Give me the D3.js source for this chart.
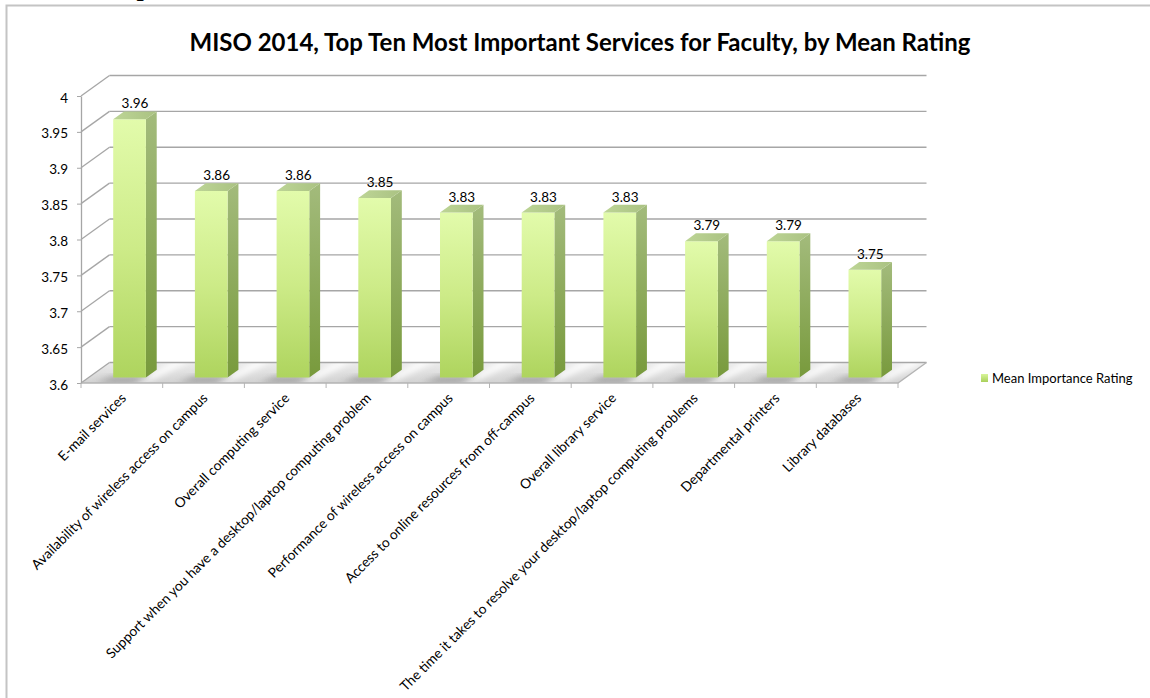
<!DOCTYPE html>
<html>
<head>
<meta charset="utf-8">
<script src="https://cdn.jsdelivr.net/npm/d3@7"></script>
<style>
  body { margin: 0; background: #fff; }
  svg { display: block; font-family: Lato, "Open Sans", sans-serif; }
</style>
</head>
<body>
<svg id="chart" width="1150" height="698"></svg>
<script>
// Survey data: mean importance rating per service
const categories = [
  "E-mail services",
  "Availability of wireless access on campus",
  "Overall computing service",
  "Support when you have a desktop/laptop computing problem",
  "Performance of wireless access on campus",
  "Access to online resources from off-campus",
  "Overall library service",
  "The time it takes to resolve your desktop/laptop computing problems",
  "Departmental printers",
  "Library databases"
];
const meanRatings = [3.96, 3.86, 3.86, 3.85, 3.83, 3.83, 3.83, 3.79, 3.79, 3.75];
const yTickValues = [3.6, 3.65, 3.7, 3.75, 3.8, 3.85, 3.9, 3.95, 4];
const seriesName = "Mean Importance Rating";
const chartTitle = "MISO 2014, Top Ten Most Important Services for Faculty, by Mean Rating";

const svg = d3.select("#chart");
const defs = svg.append("defs");

// Front plane scales; the back wall sits one "depth" behind the front plane
const x = d3.scaleBand().domain(categories).range([81, 898]);
const y = d3.scaleLinear().domain([3.6, 4]).range([383, 96]);
const depth = { dx: 28.5, dy: -20.5 };
const P = (px, py, t) => [px + t * depth.dx, py + t * depth.dy];
const baseVal = y.domain()[0];
const y0 = y(baseVal);
const [xL, xR] = x.range();

// Gradients
function linGrad(id, x1, y1, x2, y2, stops) {
  const g = defs.append("linearGradient").attr("id", id)
    .attr("x1", x1).attr("y1", y1).attr("x2", x2).attr("y2", y2);
  stops.forEach(([o, c]) => g.append("stop").attr("offset", o).attr("stop-color", c));
}
linGrad("barFront", 0, 0, 0, 1, [[0, "#e2fbab"], [0.5, "#cdeb88"], [1, "#aed45e"]]);
linGrad("barSide", 0, 0, 0, 1, [[0, "#a3bb7c"], [1, "#789a3c"]]);
linGrad("barTop", 0, 0, 1, 0, [[0, "#bdd596"], [1, "#aac282"]]);
linGrad("floorFill", 0, 0, 0, 1, [[0, "#ececec"], [1, "#d2d2d2"]]);
linGrad("legendFill", 0, 0, 0, 1, [[0, "#d8f59a"], [1, "#a9d05a"]]);
defs.append("filter").attr("id", "soft").attr("x", "-50%").attr("y", "-50%")
  .attr("width", "200%").attr("height", "200%")
  .append("feGaussianBlur").attr("stdDeviation", 3);
defs.append("clipPath").attr("id", "floorClip")
  .append("polygon")
  .attr("points", [P(xL, y0, 0), P(xR, y0, 0), P(xR, y0, 1), P(xL, y0, 1)].join(" "));

// Page heading partially above the visible area, and the chart frame
svg.append("text").attr("x", 151).attr("y", -4).attr("text-anchor", "end")
  .attr("font-family", "Liberation Serif, serif").attr("font-weight", "bold")
  .attr("font-size", 26).attr("fill", "#000").text("Top");
svg.append("rect").attr("x", 6.5).attr("y", 5.5).attr("width", 1160).attr("height", 720)
  .attr("fill", "none").attr("stroke", "#c4c4c4").attr("stroke-width", 2);

// Title
svg.append("text").attr("x", 580).attr("y", 51).attr("text-anchor", "middle")
  .attr("font-weight", "bold").attr("font-size", 24).attr("fill", "#000")
  .text(chartTitle);

// Floor
const floor = svg.append("g");
floor.append("polygon")
  .attr("points", [P(xL, y0, 0), P(xR, y0, 0), P(xR, y0, 1), P(xL, y0, 1)].join(" "))
  .attr("fill", "url(#floorFill)");

// Bar geometry
const bw = x.bandwidth() * 0.4;
const t0 = 0.27, t1 = 0.65;
const bars = categories.map((c, i) => {
  const xc = x(c) + x.bandwidth() / 2;
  return { cat: c, v: meanRatings[i], x0: xc - bw / 2, x1: xc + bw / 2 };
});

// Soft floor lighting: bright streaks between bars, shadows at bar bases
const floorShade = floor.append("g").attr("clip-path", "url(#floorClip)");
floorShade.selectAll("polygon.lit").data(bars).join("polygon").attr("class", "lit")
  .attr("points", d => [P(d.x1 + 6, y0, 1.1), P(d.x1 + 22, y0, 1.1),
                        P(d.x1 + 6, y0, -0.1), P(d.x1 - 6, y0, -0.1)].join(" "))
  .attr("fill", "#ffffff").attr("opacity", 0.95).attr("filter", "url(#soft)");
floorShade.selectAll("polygon.shadow").data(bars).join("polygon").attr("class", "shadow")
  .attr("points", d => [P(d.x0 - 2, y0, t0 + 0.05), P(d.x1 + 4, y0, t0 + 0.05),
                        P(d.x1 - 2, y0, 0.0), P(d.x0 - 10, y0, 0.0)].join(" "))
  .attr("fill", "#8e8e8e").attr("opacity", 0.75).attr("filter", "url(#soft)");

// Back wall grid and side wall diagonals
const grid = svg.append("g").attr("stroke", "#a6a6a6").attr("stroke-width", 1.3).attr("fill", "none");
grid.selectAll("line.back").data(yTickValues).join("line").attr("class", "back")
  .attr("x1", d => P(xL, y(d), 1)[0]).attr("y1", d => P(xL, y(d), 1)[1])
  .attr("x2", d => P(xR, y(d), 1)[0]).attr("y2", d => P(xR, y(d), 1)[1]);
grid.selectAll("line.side").data(yTickValues).join("line").attr("class", "side")
  .attr("x1", d => P(xL, y(d), 0)[0]).attr("y1", d => P(xL, y(d), 0)[1])
  .attr("x2", d => P(xL, y(d), 1)[0]).attr("y2", d => P(xL, y(d), 1)[1]);
// Floor front and right edges
grid.append("polyline")
  .attr("points", [P(xL, y0, 0), P(xR, y0, 0), P(xR, y0, 1)].join(" "))
  .attr("stroke", "#b4b4b4");

// Y axis on the front plane
const yAxis = svg.append("g").attr("transform", `translate(${xL},0)`)
  .call(d3.axisLeft(y).tickValues(yTickValues).tickSize(4).tickSizeOuter(0).tickPadding(9)
    .tickFormat(d3.format("")));
yAxis.select(".domain").attr("stroke", "#a6a6a6").attr("stroke-width", 1.3);
yAxis.selectAll(".tick line").attr("stroke", "#a6a6a6");
yAxis.selectAll(".tick text").attr("font-size", 13.5).attr("fill", "#000")
  .attr("font-family", "Lato, sans-serif").attr("dy", "0.45em");

// X axis ticks at category boundaries, labels rotated
const xAxis = svg.append("g").attr("transform", `translate(0,${y0})`);
xAxis.selectAll("line").data(categories.concat([null])).join("line")
  .attr("x1", (d, i) => xL + i * x.step()).attr("x2", (d, i) => xL + i * x.step())
  .attr("y1", 0).attr("y2", 5).attr("stroke", "#b4b4b4").attr("stroke-width", 1);
xAxis.selectAll("text").data(categories).join("text")
  .attr("transform", d => `translate(${x(d) + x.bandwidth() / 2 + 5},${16}) rotate(-45)`)
  .attr("text-anchor", "end").attr("font-size", 13.7).attr("fill", "#000")
  .text(d => d);

// Bars: side, front, top faces
const barG = svg.append("g").selectAll("g").data(bars).join("g");
barG.append("polygon")
  .attr("points", d => [P(d.x1, y(d.v), t0), P(d.x1, y(d.v), t1), P(d.x1, y0, t1), P(d.x1, y0, t0)].join(" "))
  .attr("fill", "url(#barSide)");
barG.append("polygon")
  .attr("points", d => [P(d.x0, y(d.v), t0), P(d.x1, y(d.v), t0), P(d.x1, y0, t0), P(d.x0, y0, t0)].join(" "))
  .attr("fill", "url(#barFront)");
barG.append("polygon")
  .attr("points", d => [P(d.x0, y(d.v), t0), P(d.x1, y(d.v), t0), P(d.x1, y(d.v), t1), P(d.x0, y(d.v), t1)].join(" "))
  .attr("fill", "url(#barTop)");

// Value labels above each bar
barG.append("text")
  .attr("x", d => P((d.x0 + d.x1) / 2, y(d.v), (t0 + t1) / 2)[0])
  .attr("y", d => P(d.x0, y(d.v), t1)[1] - 3)
  .attr("text-anchor", "middle").attr("font-size", 13.5).attr("fill", "#000")
  .text(d => d3.format(".2f")(d.v));

// Legend
const legend = svg.append("g").attr("transform", "translate(981,374)");
legend.append("rect").attr("width", 7).attr("height", 8).attr("fill", "url(#legendFill)");
legend.append("text").attr("x", 11).attr("y", 8.5).attr("font-size", 13).attr("fill", "#000")
  .text(seriesName);
</script>
</body>
</html>
